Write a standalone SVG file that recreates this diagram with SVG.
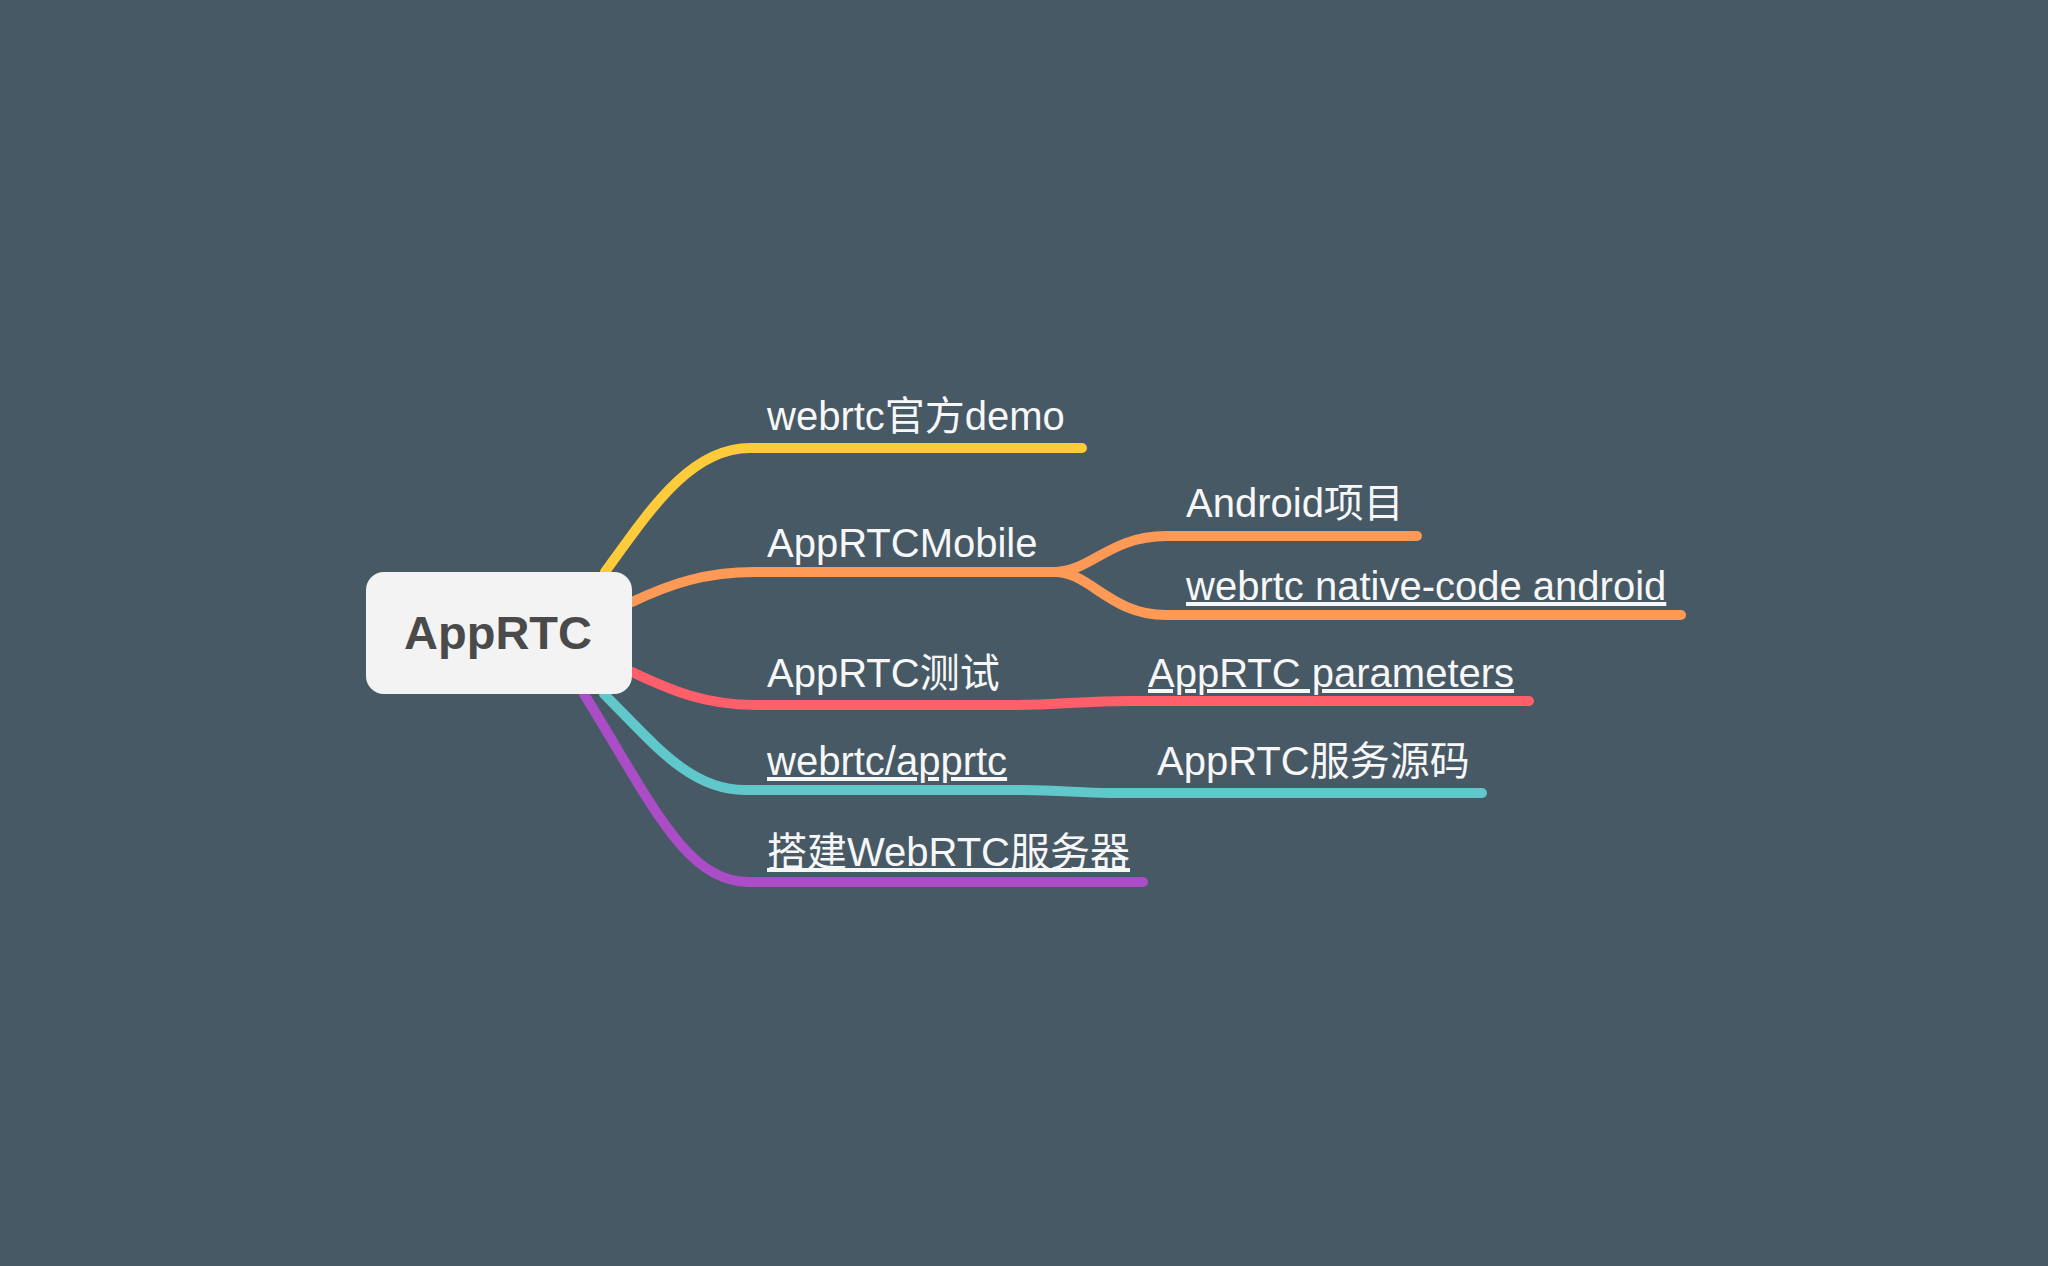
<svg xmlns="http://www.w3.org/2000/svg" width="2048" height="1266" viewBox="0 0 2048 1266">
<style>
.bg{fill:#465965}
.c{fill:none;stroke-width:10;stroke-linecap:round;stroke-linejoin:round}
.y{stroke:#fecb3b}
.o{stroke:#fe9a56}
.r{stroke:#fe5f6a}
.t{stroke:#60c8ca}
.p{stroke:#aa4dc7}
.lbl{font-family:"Liberation Sans","Noto Sans CJK SC",sans-serif;font-size:40px;fill:#f7f7f7}
.u{text-decoration:underline}
.root{font-family:"Liberation Sans","Noto Sans CJK SC",sans-serif;font-size:47px;font-weight:bold;fill:#4a4a4a}
</style>
<rect class="bg" x="0" y="0" width="2048" height="1266"/>
<g id="connectors">
<path class="c y" d="M 605 572 C 650 510, 690 448, 750 448 L 1082 448"/>
<path class="c o" d="M 632 602 C 670 584, 705 572, 755 572 L 1055 572"/>
<path class="c o" d="M 1055 572 C 1090 572, 1110 536, 1166 536 L 1417 536"/>
<path class="c o" d="M 1055 572 C 1090 572, 1110 615, 1166 615 L 1681 615"/>
<path class="c r" d="M 632 672 C 670 690, 705 705, 755 705 L 1015 705 C 1060 705, 1080 701, 1130 701 L 1529 701"/>
<path class="c t" d="M 604 694 C 655 745, 690 790, 745 790 L 1023 790 C 1060 790, 1080 793, 1110 793 L 1482 793"/>
<path class="c p" d="M 584 694 C 650 800, 685 882, 748 882 L 1143 882"/>
</g>
<g id="root">
<rect x="366" y="572" width="266" height="122" rx="18" ry="18" fill="#f3f3f3"/>
<text class="root" x="498" y="649" text-anchor="middle">AppRTC</text>
</g>
<g id="n-demo"><text class="lbl" x="767" y="430">webrtc官方demo</text></g>
<g id="n-mobile"><text class="lbl" x="767" y="557">AppRTCMobile</text></g>
<g id="n-android"><text class="lbl" x="1186" y="517">Android项目</text></g>
<g id="n-native"><text class="lbl u" x="1186" y="600">webrtc native-code android</text></g>
<g id="n-test"><text class="lbl" x="767" y="687">AppRTC测试</text></g>
<g id="n-params"><text class="lbl u" x="1148" y="687">AppRTC parameters</text></g>
<g id="n-apprtc"><text class="lbl u" x="767" y="775">webrtc/apprtc</text></g>
<g id="n-source"><text class="lbl" x="1157" y="775">AppRTC服务源码</text></g>
<g id="n-server"><text class="lbl u" x="767" y="866">搭建WebRTC服务器</text></g>
</svg>
